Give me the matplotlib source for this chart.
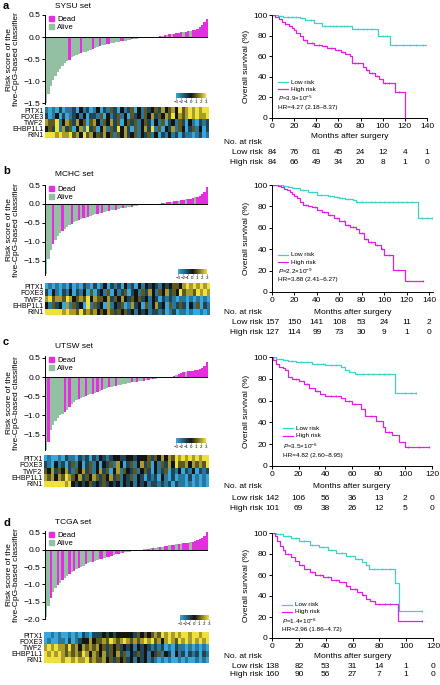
import numpy as np
import matplotlib
matplotlib.use('Agg')
import matplotlib.pyplot as plt
from matplotlib.colors import LinearSegmentedColormap
from matplotlib.patches import Patch
from matplotlib.lines import Line2D
from matplotlib.transforms import blended_transform_factory

plt.rcParams['font.family'] = ['Liberation Sans', 'DejaVu Sans']
plt.rcParams['mathtext.fontset'] = 'custom'
plt.rcParams['mathtext.rm'] = 'Liberation Sans'
plt.rcParams['mathtext.it'] = 'Liberation Sans:italic'
plt.rcParams['axes.linewidth'] = 0.7

# ---- data -------------------------------------------------------------
set_names = ['SYSU set', 'MCHC set', 'UTSW set', 'TCGA set']
letters = ['a', 'b', 'c', 'd']
genes = ['PITX1', 'FOXE3', 'TWF2', 'EHBP1L1', 'RIN1']

# sorted risk scores (waterfall)
score_a = [-1.50, -1.30, -1.12, -0.98, -0.88, -0.80, -0.72, -0.66, -0.60, -0.55,
           -0.52, -0.46, -0.43, -0.41, -0.39, -0.37, -0.35, -0.33, -0.31, -0.29,
           -0.27, -0.25, -0.23, -0.21, -0.19, -0.17, -0.16, -0.15, -0.14, -0.13,
           -0.12, -0.11, -0.10, -0.09, -0.08, -0.07, -0.06, -0.05, -0.05, -0.04,
           -0.03, -0.03, -0.02, -0.02, -0.01, -0.01, 0.00, 0.01, 0.01, 0.02,
           0.03, 0.04, 0.05, 0.06, 0.07, 0.08, 0.09, 0.10, 0.11, 0.12,
           0.12, 0.13, 0.14, 0.15, 0.17, 0.19, 0.22, 0.27, 0.33, 0.42]
score_b = [-1.85, -1.45, -1.22, -1.05, -0.95, -0.86, -0.78, -0.72, -0.66, -0.60,
           -0.56, -0.52, -0.48, -0.45, -0.42, -0.40, -0.38, -0.36, -0.34, -0.32,
           -0.30, -0.28, -0.26, -0.25, -0.23, -0.22, -0.20, -0.19, -0.17, -0.16,
           -0.15, -0.14, -0.12, -0.11, -0.10, -0.09, -0.08, -0.07, -0.06, -0.05,
           -0.04, -0.04, -0.03, -0.02, -0.02, -0.01, -0.01, 0.00, 0.00, 0.01,
           0.02, 0.03, 0.04, 0.05, 0.06, 0.07, 0.08, 0.09, 0.10, 0.11,
           0.12, 0.13, 0.14, 0.15, 0.17, 0.19, 0.21, 0.25, 0.31, 0.45]
score_c = [-1.90, -1.70, -1.38, -1.25, -1.15, -1.06, -1.00, -0.95, -0.90, -0.85,
           -0.78, -0.70, -0.64, -0.60, -0.57, -0.54, -0.51, -0.49, -0.47, -0.45,
           -0.43, -0.41, -0.38, -0.36, -0.33, -0.31, -0.29, -0.27, -0.25, -0.24,
           -0.23, -0.21, -0.20, -0.18, -0.17, -0.16, -0.15, -0.14, -0.13, -0.12,
           -0.11, -0.10, -0.09, -0.08, -0.07, -0.06, -0.05, -0.04, -0.03, -0.02,
           -0.02, -0.01, 0.00, 0.00, 0.01, 0.03, 0.05, 0.08, 0.10, 0.12,
           0.14, 0.15, 0.16, 0.17, 0.18, 0.19, 0.21, 0.24, 0.30, 0.40]
score_d = [-1.95, -1.62, -1.38, -1.22, -1.10, -1.02, -0.95, -0.88, -0.82, -0.76,
           -0.70, -0.65, -0.60, -0.56, -0.52, -0.48, -0.45, -0.42, -0.39, -0.36,
           -0.34, -0.31, -0.29, -0.27, -0.25, -0.23, -0.21, -0.19, -0.17, -0.15,
           -0.13, -0.12, -0.10, -0.09, -0.07, -0.06, -0.05, -0.04, -0.03, -0.01,
           0.00, 0.01, 0.02, 0.03, 0.04, 0.05, 0.06, 0.07, 0.08, 0.09,
           0.10, 0.11, 0.12, 0.13, 0.14, 0.15, 0.16, 0.17, 0.18, 0.19,
           0.20, 0.21, 0.22, 0.24, 0.26, 0.28, 0.31, 0.35, 0.41, 0.52]

# vital status per sample (1 = dead, 0 = alive)
dead_a = '0000000000 1000010000 1001001100 0011000100 0000000101 0101011110 1101111111'
dead_b = '0001000100 0100101010 0010100100 1001000100 1000100001 1011011011 0111011111'
dead_c = '0100000010 1000100100 1010100100 1000000101 0010101000 0000110111 0111111111'
dead_d = '0010010100 1010100100 1001101110 1101000000 0000101001 0110110101 1101111111'

# methylation heatmaps, digits 0..6 -> z-score -3..3
heat_a = ['10102011 20312013 02142031 24031423 42534536 45656566',
          '20130201 23130221 40312413 04231435 24354635 45656556',
          '54461354 25340453 14352403 42413420 31402314 20310212',
          '34261524 03516240 35142635 20413526 14032514 30241302',
          '66656556 45364534 25341435 23413241 30213120 21101201']
heat_b = ['01010102 01021020 13021203 12031323 21323443 56565656',
          '20310213 02130402 31403124 02314253 14352436 45546565',
          '56455465 34546354 43524353 24342313 20212101 10101010',
          '31423051 42306142 30513240 15230413 52304124 20314021',
          '66666565 54645453 43542434 23132312 21201201 10100101']
heat_c = ['01001021 10212021 32123322 33233342 43535465 65656566',
          '21031202 41302413 03241530 24135240 31425364 45354546',
          '43524352 14352413 52403514 32413420 31240213 02130212',
          '54535465 43524354 24352413 24132021 20310201 10201010',
          '66666656 32323423 24232313 23132312 21212021 10101010']
heat_d = ['00101001 01021022 23232333 33243434 54656565 66566566',
          '01001102 01233534 45465456 54545656 45356546 56565656',
          '56565546 45354545 34243423 23132321 21201021 10101010',
          '65656545 45465354 35243524 13242313 24132031 20212021',
          '66666566 56556454 45342434 23132312 10101001 01001010']

# Kaplan-Meier curves (months, survival %)
low_t_a = [0, 5, 10, 25, 30, 38, 45, 72, 96, 107, 143]
low_s_a = [100, 99, 98, 97, 95, 92, 89, 86, 80, 71, 71]
high_t_a = [0, 3, 6, 9, 12, 15, 18, 20, 22, 25, 28, 32, 38, 45, 50, 57, 62, 66, 70, 72,
            82, 85, 88, 93, 97, 100, 111, 120]
high_s_a = [100, 98, 96, 93, 91, 89, 87, 85, 83, 80, 76, 73, 71, 70, 68, 66, 64, 62, 60, 53,
            50, 47, 44, 41, 38, 34, 25, 0]
low_t_b = [0, 10, 14, 18, 25, 32, 40, 50, 55, 60, 65, 72, 75, 130, 143]
low_s_b = [100, 99, 98, 97, 95, 93, 91, 90, 89, 88, 87, 86, 84, 69, 69]
high_t_b = [0, 5, 8, 11, 13, 16, 18, 20, 22, 25, 28, 32, 36, 40, 45, 50, 55, 60, 65, 70,
            75, 78, 82, 86, 92, 97, 100, 108, 119, 135]
high_s_b = [100, 99, 98, 96, 95, 93, 92, 90, 88, 84, 81, 80, 79, 77, 75, 72, 69, 66, 63, 61,
            59, 55, 50, 47, 44, 40, 35, 21, 10, 10]
low_t_c = [0, 3, 8, 12, 18, 30, 40, 52, 55, 58, 62, 92, 108]
low_s_c = [100, 98, 97, 96, 95, 94, 93, 91, 88, 86, 84, 67, 67]
high_t_c = [0, 1, 3, 5, 8, 10, 12, 15, 20, 24, 28, 32, 36, 40, 52, 55, 60, 67, 70, 78,
            83, 85, 90, 95, 100, 118]
high_s_c = [100, 97, 94, 91, 90, 88, 82, 80, 78, 75, 72, 69, 66, 64, 62, 60, 57, 52, 46, 41,
            36, 31, 28, 22, 17, 17]
low_t_d = [0, 3, 8, 14, 20, 28, 35, 42, 48, 55, 62, 67, 70, 72, 92, 95, 112]
low_s_d = [100, 99, 97, 95, 92, 89, 87, 84, 81, 78, 75, 72, 70, 66, 52, 26, 26]
high_t_d = [0, 2, 4, 6, 8, 10, 14, 17, 20, 24, 28, 32, 38, 44, 50, 55, 58, 63, 67, 70,
            73, 77, 94, 112]
high_s_d = [100, 97, 92, 88, 84, 80, 77, 73, 70, 66, 63, 60, 58, 55, 53, 50, 47, 44, 41, 37,
            35, 32, 16, 16]

# censoring times
cens_low_a = [8, 14, 18, 22, 27, 35, 48, 52, 55, 58, 62, 65, 68, 78, 82, 86, 90, 100, 104,
              112, 118, 125, 130, 136, 143]
cens_high_a = [12, 30, 36, 42, 48, 53, 60, 64, 75, 78, 86, 90, 95, 102, 106, 115]
cens_low_b = [20, 28, 36, 44, 52, 58, 62, 68, 76, 80, 84, 88, 92, 96, 100, 104, 108, 112,
              116, 120, 125, 134, 138, 143]
cens_high_b = [30, 38, 46, 52, 58, 64, 68, 72, 80, 84, 88, 94, 98, 104, 112, 135]
cens_low_c = [10, 15, 22, 26, 34, 38, 44, 48, 64, 68, 72, 76, 80, 84, 88, 100, 104, 108]
cens_high_c = [18, 26, 34, 44, 48, 58, 62, 74, 88, 102, 110, 118]
cens_low_d = [6, 12, 18, 24, 30, 38, 44, 52, 58, 64, 70, 76, 82, 88, 112]
cens_high_d = [12, 22, 30, 36, 42, 48, 56, 62, 68, 80, 84, 88, 112]

# numbers at risk
risk_low_a = [84, 76, 61, 45, 24, 12, 4, 1]
risk_high_a = [84, 66, 49, 34, 20, 8, 1, 0]
risk_low_b = [157, 150, 141, 108, 53, 24, 11, 2]
risk_high_b = [127, 114, 99, 73, 30, 9, 1, 0]
risk_low_c = [142, 106, 56, 36, 13, 2, 0]
risk_high_c = [101, 69, 38, 26, 12, 5, 0]
risk_low_d = [138, 82, 53, 31, 14, 1, 0]
risk_high_d = [160, 90, 56, 27, 7, 1, 0]

p_text = [r'$\it{P}$=3.9×10$^{-5}$', r'$\it{P}$=2.2×10$^{-9}$',
          r'$\it{P}$=3.5×10$^{-6}$', r'$\it{P}$=1.4×10$^{-6}$']
hr_text = ['HR=4.27 (2.18–8.37)', 'HR=3.88 (2.41–6.27)',
           'HR=4.82 (2.60–8.95)', 'HR=2.96 (1.86–4.72)']

# ---- style / layout ---------------------------------------------------
DEAD = '#E62EE0'
ALIVE = '#93BFA3'
LOW = '#3CD3C4'
HIGH = '#E020E0'
cmap = LinearSegmentedColormap.from_list('meth', ['#35A8DE', '#141414', '#F0E03A'])

W, H = 440, 685
fig = plt.figure(figsize=(4.4, 6.85), dpi=100)


def box(x0, y0, x1, y1):
    return [x0 / W, 1 - y1 / H, (x1 - x0) / W, (y1 - y0) / H]


def fp(x, y):
    return x / W, 1 - y / H


panels = [
    dict(score=score_a, dead=dead_a, heat=heat_a,
         low=(low_t_a, low_s_a, cens_low_a), high=(high_t_a, high_s_a, cens_high_a),
         risk=(risk_low_a, risk_high_a),
         wf=(45, 15, 208, 104), wf_ylim=(-1.52, 0.5), wf_ticks=[0.5, 0, -0.5, -1.0, -1.5],
         cbar=(176, 93, 206, 98), hm=(45, 107, 208, 138),
         km=(272, 15, 427, 118), xmax=140, xticks=range(0, 141, 20),
         letter_y=6, title_y=7, mas_y=137, nar_y=142, row_y=(152, 162),
         leg_y=(82, 89, 98, 107), leg_x=278),
    dict(score=score_b, dead=dead_b, heat=heat_b,
         low=(low_t_b, low_s_b, cens_low_b), high=(high_t_b, high_s_b, cens_high_b),
         risk=(risk_low_b, risk_high_b),
         wf=(45, 185, 208, 275), wf_ylim=(-1.88, 0.5), wf_ticks=[0.5, 0, -0.5, -1.0, -1.5],
         cbar=(178, 269, 207, 274), hm=(45, 283, 209, 315),
         km=(272, 185, 433, 292), xmax=143.6, xticks=range(0, 141, 20),
         letter_y=171, title_y=174, mas_y=313, nar_y=313, row_y=(323, 333),
         leg_y=(255, 262, 271, 280), leg_x=278),
    dict(score=score_c, dead=dead_c, heat=heat_c,
         low=(low_t_c, low_s_c, cens_low_c), high=(high_t_c, high_s_c, cens_high_c),
         risk=(risk_low_c, risk_high_c),
         wf=(45, 356, 208, 450), wf_ylim=(-1.9, 0.55), wf_ticks=[0.5, 0, -0.5, -1.0, -1.5],
         cbar=(176, 438, 206, 443), hm=(44, 455, 208, 487),
         km=(272, 357, 432, 466), xmax=120, xticks=range(0, 121, 20),
         letter_y=342, title_y=346, mas_y=487, nar_y=487, row_y=(498, 509),
         leg_y=(428, 436, 446, 455), leg_x=283),
    dict(score=score_d, dead=dead_d, heat=heat_d,
         low=(low_t_d, low_s_d, cens_low_d), high=(high_t_d, high_s_d, cens_high_d),
         risk=(risk_low_d, risk_high_d),
         wf=(45, 531, 208, 619), wf_ylim=(-2.0, 0.55),
         wf_ticks=[0.5, 0, -0.5, -1.0, -1.5, -2.0],
         cbar=(180, 615, 209, 620), hm=(44, 632, 208, 663),
         km=(272, 533, 433, 638), xmax=120, xticks=range(0, 121, 20),
         letter_y=523, title_y=523, mas_y=656, nar_y=656, row_y=(666, 675),
         leg_y=(605, 612, 621, 630), leg_x=282),
]

for k, p in enumerate(panels):
    # letter and title
    fig.text(*fp(3, p['letter_y']), letters[k], fontsize=8, fontweight='bold',
             va='center', ha='left')
    fig.text(*fp(55, p['title_y']), set_names[k], fontsize=6, va='center', ha='left')

    # waterfall
    ax = fig.add_axes(box(*p['wf']))
    scores = np.array(p['score'])
    dead = p['dead'].replace(' ', '')
    colors = [DEAD if d == '1' else ALIVE for d in dead]
    x = np.arange(len(scores))
    ax.bar(x, scores, width=1.0, color=colors, linewidth=0)
    ax.axhline(0, color='black', lw=0.7)
    ax.set_xlim(-0.5, len(scores) - 0.5)
    ax.set_ylim(*p['wf_ylim'])
    ax.set_yticks(p['wf_ticks'])
    ax.set_yticklabels([f'{v:.1f}'.replace('-', '\u2212') for v in p['wf_ticks']])
    for s in ['top', 'right', 'bottom']:
        ax.spines[s].set_visible(False)
    ax.tick_params(axis='x', bottom=False, labelbottom=False)
    ax.tick_params(axis='y', labelsize=6, length=2, width=0.7, pad=1.5)
    ax.set_ylabel('Risk score of the\nfive-CpG-based classifier', fontsize=6,
                  linespacing=1.0)
    ax.yaxis.set_label_coords(-0.155, 0.5)
    ax.legend(handles=[Patch(color=DEAD, label='Dead'), Patch(color=ALIVE, label='Alive')],
              loc='upper left', bbox_to_anchor=(0.02, 1.0), frameon=False, fontsize=5.5,
              handlelength=0.7, handleheight=0.7, handletextpad=0.4, labelspacing=0.1,
              borderaxespad=0, borderpad=0.1)

    # colour key
    cax = fig.add_axes(box(*p['cbar']))
    sm = plt.cm.ScalarMappable(cmap=cmap, norm=plt.Normalize(-3, 3))
    cb = fig.colorbar(sm, cax=cax, orientation='horizontal')
    cb.set_ticks(range(-3, 4))
    cb.set_ticklabels([str(v).replace('-', '\u2212') for v in range(-3, 4)])
    cb.ax.tick_params(labelsize=3.2, length=1, width=0.4, pad=0.5)
    cb.outline.set_visible(False)

    # heatmap
    hax = fig.add_axes(box(*p['hm']))
    mat = np.array([[int(c) - 3 for c in row.replace(' ', '')] for row in p['heat']])
    hax.imshow(mat, aspect='auto', cmap=cmap, vmin=-3, vmax=3, interpolation='nearest')
    hax.set_xticks([])
    hax.set_yticks(range(len(genes)))
    hax.set_yticklabels(genes, fontsize=5)
    hax.tick_params(axis='y', length=0, pad=1)
    for s in hax.spines.values():
        s.set_visible(False)

    # Kaplan-Meier
    kax = fig.add_axes(box(*p['km']))
    for (t, sv, cens), col in [(p['low'], LOW), (p['high'], HIGH)]:
        t = np.array(t)
        sv = np.array(sv)
        kax.step(t, sv, where='post', color=col, lw=0.9)
        ct = np.array(cens)
        cs = sv[np.searchsorted(t, ct, side='right') - 1]
        kax.plot(ct, cs, '|', color=col, ms=1.8, mew=0.5)
    kax.set_xlim(0, p['xmax'])
    kax.set_ylim(0, 100)
    kax.set_xticks(list(p['xticks']))
    kax.set_yticks(range(0, 101, 20))
    for s in ['top', 'right']:
        kax.spines[s].set_visible(False)
    kax.tick_params(labelsize=6, length=2, width=0.7, pad=1.5)
    kax.set_ylabel('Overall survival (%)', fontsize=6, labelpad=2)

    # legend / stats inside KM
    lx = p['leg_x']
    ly = p['leg_y']
    for yy, col, lab in [(ly[0], LOW, 'Low risk'), (ly[1], HIGH, 'High risk')]:
        fig.add_artist(Line2D([lx / W, (lx + 10) / W], [1 - yy / H] * 2, color=col,
                              lw=0.9, transform=fig.transFigure))
        fig.text(*fp(lx + 13, yy), lab, fontsize=4.6, va='center')
    fig.text(*fp(lx, ly[2]), p_text[k], fontsize=4.6, va='center')
    fig.text(*fp(lx, ly[3]), hr_text[k], fontsize=4.6, va='center')

    # numbers at risk table
    x0, y0, x1, y1 = p['km']
    fig.text(*fp((x0 + x1) / 2, p['mas_y']), 'Months after surgery', fontsize=6,
             ha='center', va='center')
    fig.text(*fp(224, p['nar_y']), 'No. at risk', fontsize=6, ha='left', va='center')
    tr = blended_transform_factory(kax.transData, fig.transFigure)
    for row, lab, yy in [(p['risk'][0], 'Low risk', p['row_y'][0]),
                         (p['risk'][1], 'High risk', p['row_y'][1])]:
        fig.text(*fp(263, yy), lab, fontsize=6, ha='right', va='center')
        for xv, n in zip(p['xticks'], row):
            kax.text(xv, 1 - yy / H, str(n), transform=tr, fontsize=6,
                     ha='center', va='center', clip_on=False)

fig.savefig('out.png', dpi=100)
